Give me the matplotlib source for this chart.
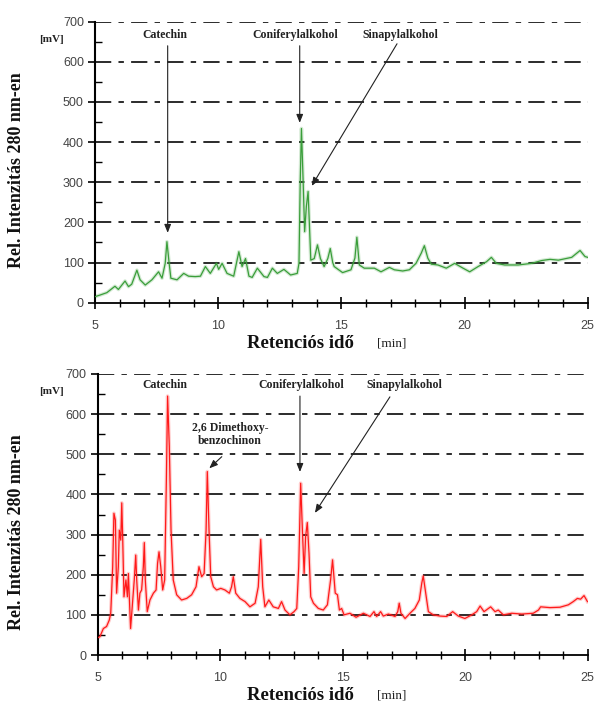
import matplotlib
matplotlib.use("Agg")
import matplotlib.pyplot as plt
from matplotlib.ticker import MultipleLocator

# ---------------- data ----------------
top_t = [5.0, 5.2, 5.48, 5.81, 5.95, 6.22, 6.36, 6.49, 6.70, 6.83, 7.04, 7.31, 7.58, 7.72,
         7.85, 7.92, 8.01, 8.08, 8.33, 8.60, 8.80, 9.07, 9.28, 9.48, 9.68, 9.93, 10.02,
         10.16, 10.36, 10.63, 10.84, 10.97, 11.11, 11.25, 11.38, 11.59, 11.86, 12.0, 12.2,
         12.4, 12.67, 12.94, 13.21, 13.28, 13.33, 13.38, 13.45, 13.51, 13.58, 13.65, 13.70,
         13.76, 13.90, 14.03, 14.15, 14.30, 14.45, 14.55, 14.65, 14.71, 15.05, 15.39, 15.55,
         15.63, 15.73, 15.93, 16.34, 16.61, 16.95, 17.15, 17.49, 17.76, 18.03, 18.24, 18.37,
         18.51, 18.65, 18.92, 19.26, 19.6, 19.94, 20.21, 20.55, 20.89, 21.09, 21.29, 21.63,
         22.18, 22.72, 23.13, 23.47, 23.81, 24.35, 24.69, 24.89, 25.0]
top_v = [15, 19, 25, 41, 33, 54, 40, 46, 81, 57, 44, 57, 77, 61,
         98, 152, 98, 61, 57, 73, 66, 65, 66, 90, 73, 98, 83,
         98, 73, 66, 127, 90, 110, 66, 63, 86, 65, 63, 86,
         73, 83, 69, 73, 98, 300, 434, 300, 177, 240, 277, 200,
         106, 110, 144, 110, 90, 110, 135, 100, 90, 75, 82, 111,
         163, 94, 86, 86, 77, 88, 82, 79, 82, 98, 123, 142,
         111, 96, 94, 86, 98, 86, 77, 90, 102, 113, 98, 94,
         94, 98, 105, 108, 106, 113, 130, 115, 113]

bot_t = [4.99, 5.10, 5.24, 5.37, 5.48, 5.54, 5.62, 5.67, 5.73, 5.78, 5.85, 5.89, 5.95,
         5.99, 6.03, 6.08, 6.16, 6.22, 6.26, 6.30, 6.35, 6.44, 6.50, 6.56, 6.60, 6.67,
         6.73, 6.80, 6.87, 6.91, 6.95, 7.03, 7.14, 7.28, 7.39, 7.45, 7.51, 7.58, 7.66,
         7.74, 7.81, 7.86, 7.93, 8.0, 8.09, 8.23, 8.43, 8.64, 8.84, 9.02, 9.14, 9.25,
         9.35, 9.43, 9.48, 9.55, 9.62, 9.73, 9.86, 10.03, 10.20, 10.38, 10.47, 10.54,
         10.64, 10.81, 11.02, 11.22, 11.43, 11.56, 11.66, 11.74, 11.83, 11.99, 12.17,
         12.38, 12.51, 12.65, 12.85, 13.02, 13.13, 13.21, 13.29, 13.36, 13.43, 13.49,
         13.56, 13.63, 13.70, 13.81, 14.01, 14.21, 14.38, 14.51, 14.59, 14.70, 14.79,
         14.87, 14.96, 15.06, 15.30, 15.55, 15.85, 16.12, 16.28, 16.39, 16.55, 16.66,
         16.87, 17.14, 17.25, 17.31, 17.38, 17.55, 17.75, 17.95, 18.13, 18.23, 18.29,
         18.39, 18.50, 18.70, 18.97, 19.25, 19.49, 19.72, 19.99, 20.27, 20.47, 20.61,
         20.77, 21.04, 21.22, 21.35, 21.56, 21.90, 22.31, 22.78, 22.99, 23.08, 23.46,
         23.87, 24.21, 24.41, 24.58, 24.71, 24.85, 24.99]
bot_v = [42, 46, 66, 71, 87, 104, 220, 353, 336, 154, 220, 311, 286,
         379, 286, 145, 187, 145, 203, 145, 66, 137, 187, 249, 187, 112,
         154, 162, 220, 280, 187, 108, 137, 154, 162, 228, 257, 220, 162,
         187, 436, 645, 519, 311, 187, 150, 137, 141, 150, 170, 220, 195,
         203, 311, 457, 311, 195, 170, 162, 166, 162, 154, 170, 195,
         154, 141, 133, 120, 129, 170, 288, 170, 120, 137, 120,
         116, 133, 112, 100, 108, 116, 220, 428, 311, 203, 295,
         330, 253, 145, 129, 116, 112, 125, 187, 237, 154, 150,
         112, 116, 100, 104, 94, 104, 96, 108, 96, 108, 97,
         102, 96, 108, 129, 104, 91, 104, 116, 137, 179, 197,
         154, 108, 100, 97, 96, 108, 97, 91, 100, 108, 122,
         108, 120, 108, 112, 100, 104, 102, 104, 112, 120, 118,
         119, 125, 133, 141, 139, 148, 133]

x_ticks = [5, 10, 15, 20, 25]
y_ticks = [0, 100, 200, 300, 400, 500, 600, 700]
y_label = "Rel. Intenzitás 280 nm-en"
x_label = "Retenciós idő"
x_unit = "[min]"
y_unit = "[mV]"

# annotations: (text, text_x, text_y, arrow_start, arrow_tip)
top_notes = [("Catechin", 7.85, 667, (7.95, 640), (7.95, 174)),
             ("Coniferylalkohol", 13.11, 667, (13.31, 640), (13.31, 448)),
             ("Sinapylalkohol", 17.38, 667, (17.26, 645), (13.80, 291))]
bot_notes = [("Catechin", 7.75, 673, None, None),
             ("Coniferylalkohol", 13.30, 673, (13.26, 645), (13.26, 456)),
             ("Sinapylalkohol", 17.50, 673, (16.93, 643), (13.87, 354)),
             ("2,6 Dimethoxy-\nbenzochinon", 10.41, 550, (10.07, 494), (9.56, 465))]

# ---------------- figure ----------------
W, H = 595, 704
fig = plt.figure(figsize=(W / 100, H / 100), dpi=100)

serif = "Liberation Serif"
sans = "Liberation Sans"


def make_axes(rect, t, v, color, notes):
    ax = fig.add_axes(rect)
    ax.set_xlim(5, 25)
    ax.set_ylim(0, 700)
    for y in y_ticks[1:]:
        ax.axhline(y, color="#1a1a1a", lw=1.3, linestyle=(0, (9, 4, 3, 4)), zorder=1)
    ax.plot(t, v, color=color, lw=2.6, alpha=0.22, zorder=2, solid_joinstyle="round")
    ax.plot(t, v, color=color, lw=0.9, zorder=3, solid_joinstyle="round")
    for s in ("top", "right"):
        ax.spines[s].set_visible(False)
    ax.spines["left"].set_linewidth(1.5)
    ax.spines["bottom"].set_linewidth(1.3)
    ax.set_xticks(x_ticks)
    ax.set_yticks(y_ticks)
    ax.xaxis.set_minor_locator(MultipleLocator(1))
    ax.yaxis.set_minor_locator(MultipleLocator(50))
    ax.tick_params(axis="x", which="major", direction="inout", length=9, width=1.2,
                   pad=8, labelsize=9, labelcolor="#444444")
    ax.tick_params(axis="x", which="minor", direction="inout", length=6, width=1.0)
    ax.tick_params(axis="y", which="major", direction="out", length=5, width=1.2,
                   pad=3, labelsize=9, labelcolor="#444444")
    ax.tick_params(axis="y", which="minor", direction="in", length=5, width=1.0)
    for lab in ax.get_xticklabels() + ax.get_yticklabels():
        lab.set_fontfamily(sans)
    for text, tx, ty, a0, a1 in notes:
        ax.text(tx, ty, text, ha="center", va="center", fontsize=8.5,
                fontweight="bold", family=serif, color="#222222", linespacing=1.1,
                zorder=5)
        if a0 is not None:
            ax.annotate("", xy=a1, xytext=a0,
                        arrowprops=dict(arrowstyle="-|>,head_length=0.5,head_width=0.2",
                                        color="#222222", lw=0.8, shrinkA=0, shrinkB=0),
                        zorder=5)
    return ax


ax1 = make_axes([95 / W, 1 - 302.7 / H, (587.7 - 95) / W, 281 / H],
                top_t, top_v, "#3a9e3a", top_notes)
ax2 = make_axes([97.5 / W, 1 - 655 / H, (587.7 - 97.5) / W, 281 / H],
                bot_t, bot_v, "#ff1a1a", bot_notes)

# axis labels
for yc in (170, 532):
    fig.text(17 / W, 1 - yc / H, y_label, rotation=90, ha="center", va="center",
             fontsize=13, fontweight="bold", family=serif, color="#111111")
for yc in (343, 695):
    fig.text(300 / W, 1 - yc / H, x_label, ha="center", va="center",
             fontsize=13.5, fontweight="bold", family=serif, color="#111111")
    fig.text(392 / W, 1 - (yc + 1) / H, x_unit, ha="center", va="center",
             fontsize=9.5, family=serif, color="#222222")
for yc in (40, 392):
    fig.text(52 / W, 1 - yc / H, y_unit, ha="center", va="center",
             fontsize=8, fontweight="bold", family=serif, color="#222222")

fig.savefig("out.png", dpi=100, facecolor="white")
